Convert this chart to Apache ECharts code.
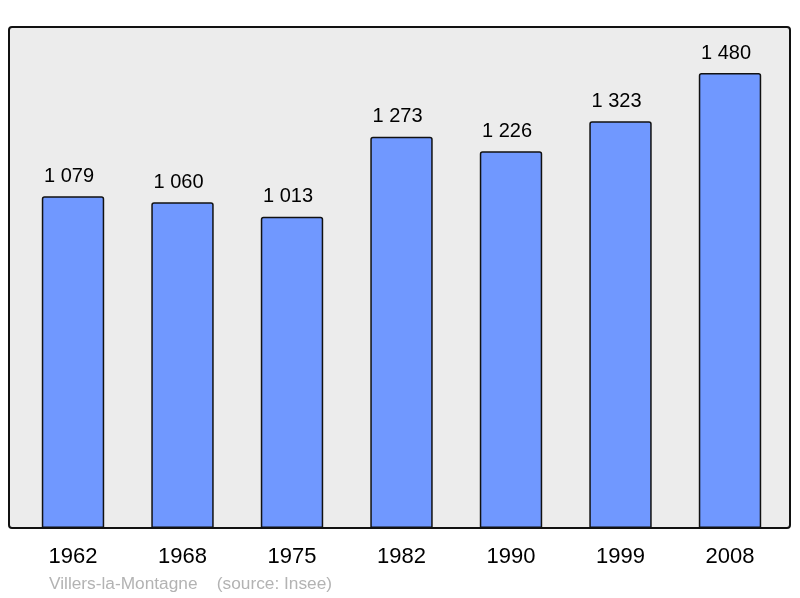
<!DOCTYPE html>
<html><head><meta charset="utf-8">
<script src="https://cdn.jsdelivr.net/npm/echarts@6/dist/echarts.min.js"></script>
<style>html,body{margin:0;padding:0;background:#fff}#c{width:800px;height:598px}</style>
</head><body><div id="c"></div>
<script>
const categories = ['1962','1968','1975','1982','1990','1999','2008'];
const population = [1079, 1060, 1013, 1273, 1226, 1323, 1480];
const sourceText = 'Villers-la-Montagne    (source: Insee)';

const chart = echarts.init(document.getElementById('c'), null, {renderer:'canvas'});
const fmt = v => { const s = String(v); return s.length > 3 ? s.slice(0, s.length-3) + ' ' + s.slice(-3) : s; };
chart.setOption({
  animation: false,
  textStyle: {fontFamily: 'Liberation Sans, Arial, sans-serif'},
  graphic: [
    {type:'rect', shape:{x:9, y:27, width:781, height:501, r:3}, style:{fill:'#ececec', stroke:'#111', lineWidth:2}, z:-10, silent:true},
    {type:'text', left:49, top:576, style:{text: sourceText, fill:'#b3b3b3', font:'17.3px Liberation Sans, Arial, sans-serif'}}
  ],
  grid: {left:18.25, right:15.25, top:27, bottom:70, containLabel:false},
  xAxis: {type:'category', data: categories,
    axisLine:{show:false}, axisTick:{show:false},
    axisLabel:{color:'#000', fontSize:22, margin:18, fontFamily:'Liberation Sans, Arial, sans-serif'}},
  yAxis: {type:'value', min:0, max:1630, show:false, splitLine:{show:false}},
  series: [{
    type:'bar', data: population, barWidth:'57%',
    itemStyle:{color:'#7098ff', borderColor:'#111', borderWidth:1.5, borderRadius:[2,2,0,0]},
    label:{show:true, position:'top', distance:10, offset:[-4,0], color:'#000', fontSize:20, formatter: p => fmt(p.value), fontFamily:'Liberation Sans, Arial, sans-serif'}
  }]
});
</script></body></html>
